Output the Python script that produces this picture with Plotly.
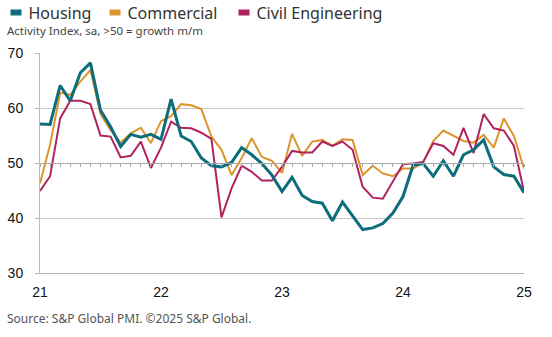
import plotly.graph_objects as go

# ---- data (monthly, Jan 2021 .. Jan 2025) ----
months = list(range(49))  # 0 = Jan 2021
housing = [57.1, 57.0, 64.1, 61.3, 66.4, 68.2, 59.6, 56.6, 53.0, 55.2, 54.7, 55.2,
           54.3, 61.6, 54.9, 53.9, 50.9, 49.5, 49.3, 50.1, 52.8, 51.5, 49.9, 47.8,
           44.8, 47.4, 44.1, 43.0, 42.7, 39.5, 42.9, 40.4, 37.9, 38.2, 39.0, 40.9,
           43.9, 49.6, 49.9, 47.6, 50.4, 47.6, 51.5, 52.4, 54.2, 49.3, 47.9, 47.6, 44.6]
commercial = [46.3, 53.3, 62.8, 62.4, 64.8, 66.9, 58.9, 56.0, 53.7, 55.4, 56.4, 53.6,
              57.6, 58.5, 60.7, 60.5, 59.8, 54.8, 52.4, 47.8, 50.9, 54.5, 51.1, 50.4,
              48.2, 55.3, 51.3, 53.9, 54.2, 53.1, 54.3, 54.2, 47.8, 49.5, 48.1, 47.6,
              49.0, 49.0, 50.1, 54.0, 55.9, 54.9, 54.0, 53.7, 55.1, 52.8, 58.1, 54.9, 49.0]
civil = [44.9, 47.6, 58.1, 61.3, 61.3, 60.7, 55.0, 54.8, 51.0, 51.3, 53.9, 49.1,
         52.8, 57.5, 56.4, 56.3, 55.5, 54.4, 40.1, 45.4, 49.5, 48.4, 46.8, 46.8,
         49.3, 52.2, 51.9, 51.9, 53.9, 53.1, 53.9, 52.4, 45.7, 43.7, 43.5, 46.6,
         49.8, 49.9, 50.2, 53.6, 53.1, 51.5, 56.4, 51.8, 58.9, 56.3, 55.9, 53.1, 44.8]
year_ticks = [0, 12, 24, 36, 48]
year_labels = ["21", "22", "23", "24", "25"]
y_ticks = [30, 40, 50, 60, 70]

names = ["Housing", "Commercial", "Civil Engineering"]
colors = ["#0e6d7c", "#dc952c", "#b0235f"]
series = [housing, commercial, civil]

# ---- layout geometry (pixels) ----
W, H = 552, 337
L, R, T, B = 40, 28, 53, 64
pw, ph = W - L - R, H - T - B


def px_x(x):
    return (x - L) / pw


def px_y(y):
    return 1 - (y - T) / ph


fig = go.Figure()

draw_order = [1, 2, 0]
widths = {0: 3, 1: 2, 2: 2}
for i in draw_order:
    fig.add_trace(go.Scatter(x=months, y=series[i], mode="lines", name=names[i],
                             line=dict(color=colors[i], width=widths[i]),
                             showlegend=False))

# legend entries: short thick dash acts as a small rectangular swatch
legend_ids = ["legend", "legend2", "legend3"]
legend_left_px = [-11.5, 87.5, 216.5]
for i in range(3):
    fig.add_trace(go.Scatter(x=[None], y=[None], mode="lines", name=names[i],
                             line=dict(color=colors[i], width=6,
                                       dash="0px,17px,11px,60px"),
                             showlegend=True, legend=legend_ids[i]))

# axis drawn through the 50 line with monthly ticks
fig.add_trace(go.Scatter(x=[None], y=[None], xaxis="x2", showlegend=False,
                         hoverinfo="skip"))

legend_style = dict(orientation="h", xref="paper", yref="paper",
                    y=px_y(-4.5), xanchor="left", yanchor="top",
                    font=dict(family="Noto Sans", size=16, color="#333333"),
                    itemwidth=30, bgcolor="rgba(0,0,0,0)")
legend_layout = {}
for lid, lx in zip(legend_ids, legend_left_px):
    legend_layout[lid] = dict(legend_style, x=px_x(lx))

fig.update_layout(
    width=W, height=H,
    margin=dict(l=L, r=R, t=T, b=B, autoexpand=False),
    paper_bgcolor="white", plot_bgcolor="white",
    font=dict(family="Liberation Sans, Arial", color="#111111"),
    showlegend=True,
    **legend_layout,
    xaxis=dict(range=[0, 48], tickvals=year_ticks, ticktext=year_labels,
               showgrid=False, zeroline=False, showline=True,
               linecolor="#b8b8b8", linewidth=1, ticks="",
               tickfont=dict(size=14, color="#111111"), ticklabelstandoff=6),
    xaxis2=dict(range=[0, 48], overlaying="x", anchor="free", position=0.5,
                showline=True, linecolor="#a8a8a8", linewidth=1,
                ticks="outside", ticklen=3, tickcolor="#a8a8a8", tick0=0, dtick=1,
                showticklabels=False, showgrid=False, zeroline=False),
    yaxis=dict(range=[30, 70], tickvals=y_ticks, showgrid=True,
               gridcolor="#c8c8c8", gridwidth=1, zeroline=False,
               showline=True, linecolor="#b8b8b8", linewidth=1,
               ticks="outside", ticklen=4, tickcolor="#b8b8b8",
               tickfont=dict(size=14, color="#111111"), ticklabelstandoff=9),
    annotations=[
        dict(text="Activity Index, sa, >50 = growth m/m", xref="paper", yref="paper",
             x=px_x(5), y=px_y(30.5), xanchor="left", yanchor="middle",
             showarrow=False, font=dict(family="Noto Sans", size=11.5, color="#444444")),
        dict(text="Source: S&P Global PMI. ©2025 S&P Global.", xref="paper", yref="paper",
             x=px_x(5), y=px_y(318), xanchor="left", yanchor="middle",
             showarrow=False, font=dict(family="Noto Sans", size=12, color="#555555")),
    ],
)

fig.write_html("out.html")
